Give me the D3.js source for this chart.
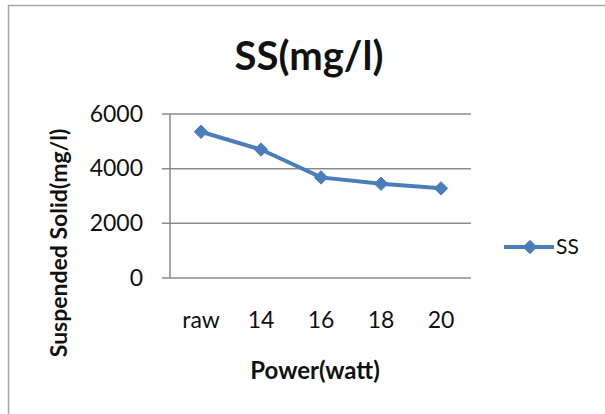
<!DOCTYPE html>
<meta charset="utf-8">
<html>
<head>
<title>SS(mg/l)</title>
<script src="https://d3js.org/d3.v7.min.js"></script>
<style>
  body { margin: 0; background: #fff; }
  text { font-family: Lato, "Open Sans", sans-serif; fill: #111; }
</style>
</head>
<body>
<svg width="605" height="414"></svg>
<script>
// data
var categories = ["raw", "14", "16", "18", "20"];
var ssValues = [5350, 4700, 3680, 3450, 3280];
var yTicks = [0, 2000, 4000, 6000];
var seriesName = "SS";

var svg = d3.select("svg");
var blue = "#4a7ebb", grid = "#8a8a8a";

// outer chart frame
svg.append("rect")
    .attr("x", 8.5).attr("y", 5.5)
    .attr("width", 620).attr("height", 420)
    .attr("fill", "#fff").attr("stroke", "#a6a6a6").attr("stroke-width", 1.5);

var plotLeft = 171, plotRight = 471, plotTop = 114, plotBottom = 278;

var x = d3.scaleBand().domain(categories).range([plotLeft, plotRight]);
var y = d3.scaleLinear().domain([0, 6000]).range([plotBottom, plotTop]);

// gridlines + tick stubs
svg.append("g").selectAll("line").data(yTicks).join("line")
    .attr("x1", plotLeft - 9).attr("x2", plotRight)
    .attr("y1", function(d) { return y(d); }).attr("y2", function(d) { return y(d); })
    .attr("stroke", grid).attr("stroke-width", 1.5);

// y axis line
svg.append("line")
    .attr("x1", plotLeft - 1).attr("x2", plotLeft - 1)
    .attr("y1", plotTop).attr("y2", plotBottom)
    .attr("stroke", grid).attr("stroke-width", 1.5);

// y tick labels
svg.append("g").selectAll("text").data(yTicks).join("text")
    .attr("x", 143).attr("y", function(d) { return y(d); })
    .attr("dy", "0.34em").attr("text-anchor", "end")
    .style("font-size", "23px")
    .text(function(d) { return d; });

// x tick labels
svg.append("g").selectAll("text").data(categories).join("text")
    .attr("x", function(d) { return x(d) + x.bandwidth() / 2; })
    .attr("y", 328).attr("text-anchor", "middle")
    .style("font-size", "23px")
    .text(function(d) { return d; });

// series line
var line = d3.line()
    .x(function(d, i) { return x(categories[i]) + x.bandwidth() / 2; })
    .y(function(d) { return y(d); });

svg.append("path").datum(ssValues)
    .attr("d", line)
    .attr("fill", "none").attr("stroke", blue).attr("stroke-width", 4);

var diamond = d3.symbol().type(d3.symbolDiamond2).size(115);
svg.append("g").selectAll("path").data(ssValues).join("path")
    .attr("d", diamond)
    .attr("transform", function(d, i) {
        return "translate(" + (x(categories[i]) + x.bandwidth() / 2) + "," + y(d) + ")";
    })
    .attr("fill", blue).attr("stroke", blue);

// title
svg.append("text")
    .attr("x", 309).attr("y", 70).attr("text-anchor", "middle")
    .style("font-size", "40px").style("font-weight", "bold")
    .text("SS(mg/l)");

// axis titles
svg.append("text")
    .attr("transform", "translate(67,243) rotate(-90)")
    .attr("text-anchor", "middle")
    .style("font-size", "23px").style("font-weight", "bold")
    .text("Suspended Solid(mg/l)");

svg.append("text")
    .attr("x", 315).attr("y", 379).attr("text-anchor", "middle")
    .style("font-size", "24px").style("font-weight", "bold")
    .text("Power(watt)");

// legend
var lg = svg.append("g").attr("transform", "translate(504,247)");
lg.append("line").attr("x1", 0).attr("x2", 50)
    .attr("stroke", blue).attr("stroke-width", 4);
lg.append("path").attr("d", diamond).attr("transform", "translate(26,0)")
    .attr("fill", blue).attr("stroke", blue);
lg.append("text").attr("x", 52).attr("dy", "0.34em")
    .style("font-size", "21px").text(seriesName);
</script>
</body>
</html>
